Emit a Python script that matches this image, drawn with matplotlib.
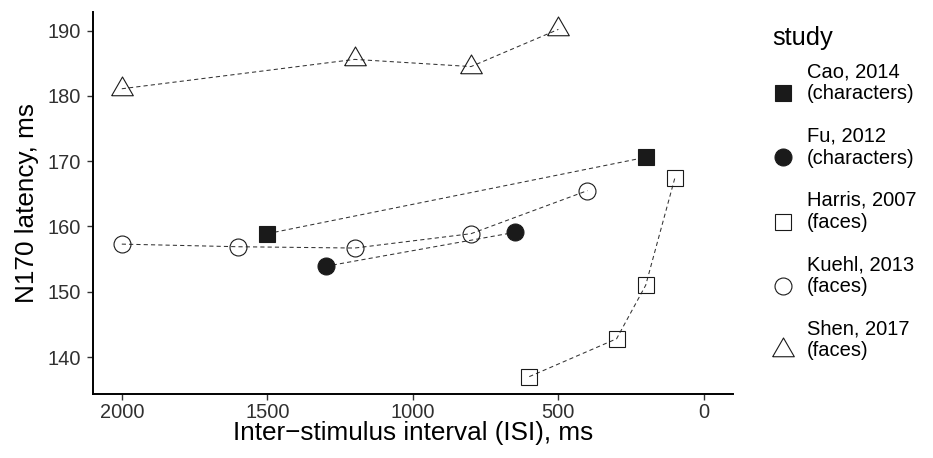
import numpy as np
import matplotlib
matplotlib.use("Agg")
import matplotlib.pyplot as plt
from matplotlib.lines import Line2D

# ------------------------------------------------------------------
# data (ISI in ms, N170 latency in ms)
# ------------------------------------------------------------------
study_labels = ["Cao, 2014\n(characters)", "Fu, 2012\n(characters)",
                "Harris, 2007\n(faces)", "Kuehl, 2013\n(faces)",
                "Shen, 2017\n(faces)"]

cao_isi = [1500, 200]
cao_lat = [158.9, 170.6]
fu_isi = [1300, 650]
fu_lat = [153.9, 159.1]
harris_isi = [600, 300, 200, 100]
harris_lat = [137.0, 142.8, 151.0, 167.4]
kuehl_isi = [2000, 1600, 1200, 800, 400]
kuehl_lat = [157.3, 156.9, 156.7, 158.9, 165.5]
shen_isi = [2000, 1200, 800, 500]
shen_lat = [181.1, 185.6, 184.5, 190.2]

x_ticks = [0, 500, 1000, 1500, 2000]
y_ticks = [140, 150, 160, 170, 180, 190]

plt.rcParams["font.family"] = ["Liberation Sans", "DejaVu Sans"]

W, H = 933, 458
fig = plt.figure(figsize=(W / 100, H / 100), dpi=100)

# axes box in pixels (left, top, right, bottom)
L, T, R, B = 92.7, 12, 733, 394
ax = fig.add_axes([L / W, 1 - B / H, (R - L) / W, (B - T) / H])

fill = "#1a1a1a"
tri = [(-1, -0.577), (1, -0.577), (0, 1.155), (-1, -0.577)]
styles = [
    dict(marker="s", ms=12.2, mfc=fill, mec=fill),
    dict(marker="o", ms=12.2, mfc=fill, mec=fill),
    dict(marker="s", ms=12.2, mfc="none", mec="#1a1a1a"),
    dict(marker="o", ms=12.2, mfc="none", mec="#1a1a1a"),
    dict(marker=tri, ms=18, mfc="none", mec="#1a1a1a"),
]
series = [(cao_isi, cao_lat), (fu_isi, fu_lat), (harris_isi, harris_lat),
          (kuehl_isi, kuehl_lat), (shen_isi, shen_lat)]

for (xs, ys), st in zip(series, styles):
    ax.plot(xs, ys, ls=(0, (4, 3)), lw=0.75, color="#333333", zorder=2)
    ax.plot(xs, ys, ls="none", mew=0.8, zorder=3, **st)

all_lat = np.concatenate([np.array(s[1]) for s in series])
span = all_lat.max() - all_lat.min()
ax.set_ylim(all_lat.min() - 0.05 * span, all_lat.max() + 0.05 * span)
ax.set_xlim(2100, -100)
ax.set_xticks(x_ticks)
ax.set_yticks(y_ticks)

for side in ["top", "right"]:
    ax.spines[side].set_visible(False)
for side in ["left", "bottom"]:
    ax.spines[side].set_linewidth(1.4)
    ax.spines[side].set_color("black")
ax.tick_params(axis="both", length=4, width=1.0, color="#333333",
               labelcolor="#303030", labelsize=14.4)
ax.tick_params(axis="x", pad=2.5)
ax.tick_params(axis="y", pad=4.5)

ax.set_xlabel("Inter\u2212stimulus interval (ISI), ms", fontsize=18.8, va="baseline")
ax.xaxis.set_label_coords(0.5, (B - 440) / (B - T))
ax.set_ylabel("N170 latency, ms", fontsize=18.8, va="baseline")
ax.yaxis.set_label_coords((34.3 - L) / (R - L), 0.5)


# ------------------------------------------------------------------
# legend drawn by hand so the key sits beside the second label line
# ------------------------------------------------------------------
def fx(px):
    return px / W


def fy(py):
    return 1 - py / H


fig.text(fx(772.5), fy(45), "study", fontsize=18.4, va="baseline", ha="left")
for i, (lab, st) in enumerate(zip(study_labels, styles)):
    ky = 93 + 64.3 * i
    fig.add_artist(Line2D([fx(782.5)], [fy(ky)], transform=fig.transFigure,
                          ls="none", mew=0.8, **st))
    line1, line2 = lab.split("\n")
    fig.text(fx(806.7), fy(ky - 15.7), line1, fontsize=14.5, va="baseline", ha="left")
    fig.text(fx(806.7), fy(ky + 6.3), line2, fontsize=14.5, va="baseline", ha="left")

fig.savefig("out.png", dpi=100)
